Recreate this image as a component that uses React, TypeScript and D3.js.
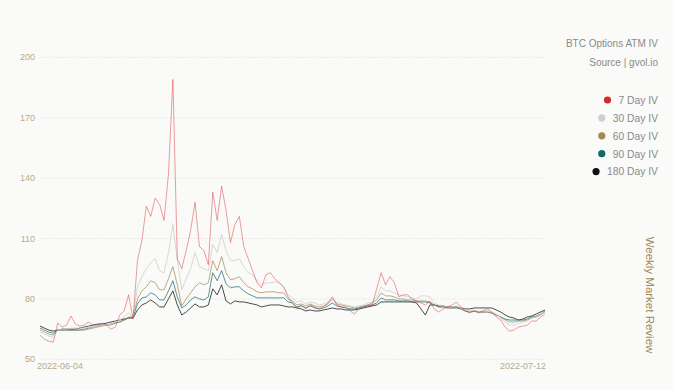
import React, { useEffect, useRef } from "react";
import * as d3 from "d3";

const startDate = "2022-06-04";
const endDate = "2022-07-12";
const stepHours = 8;
const yTicks = [50, 80, 110, 140, 170, 200];
const titleText = "BTC Options ATM IV";
const sourceText = "Source | gvol.io";
const sideText = "Weekly Market Review";

const seriesNames = ["7 Day IV", "30 Day IV", "60 Day IV", "90 Day IV", "180 Day IV"];
const seriesColors = ["#d42a2a", "#cfcfcf", "#a38a55", "#136a6e", "#111111"];

const iv7 = [62,60,59,58.5,68,66,67,71.5,67.5,66.5,67,68.5,67,67,68,67,65,66,72,74,82,70,99,109,126,121,130,127,119,142,189,100,95,104,114,128,106,104,97,133,119,136,124,108,117,121,106,100,94,88,85.5,92,93,90,88,86,81,77.5,75.5,77,75,77,76,75,76,78,81,77,76,76,74,72.5,75,76,77,77,85,93,87,91,88,81,82,82,80,79,78,77,79,75,73.5,75,76,77,78.5,76,74,73,74,73,74,75,73.5,71,69.5,66,64,64.5,66,66.5,67,69,69,71,72.5];
const iv30 = [63.5,62.5,61.5,61,64.5,65,65,65.5,65.5,65.5,65.5,66,66,66.5,67,67,67.5,68.5,69.5,71,73,71,86,91,95,98,100,94,93,103,117,99,84.5,90,95,103,96,95,94,107,103,112,104,99,99,100,96,93,92,89,87,88,88,88.5,88,86,82,80.5,78.5,79,77.5,78.5,78,77,77.5,78.5,79.5,78.5,77.5,77,76.5,76,76.5,77,78,78.5,81,86,84,84,83,82,81.5,81,80.5,80,81.5,81.5,81,78,77,76.5,76,76,76.5,75.5,74.5,74,74.5,74,74,74,73.5,72.5,70.5,68.5,67,67,68,68.5,69,70.5,71,72.5,73.5];
const iv60 = [64.5,63.5,62.5,62,64.5,64.5,64.5,64.5,64.5,64.5,64.5,65,65.5,66,66.5,67,67,68,68.5,69.5,71,71,80,84,86,89,88,84.5,84.5,90,96,87,76.5,80,83,86,88,87,88,99,94,101,93,89.5,90,91,88,86,85,83.5,83,83.5,83.5,83.5,83,83,80,79,77,77.5,76.5,77.5,76.5,76,76.5,77.5,80,77.5,77,76.5,76,75.5,76,76.5,77,78,79.5,83,81.5,81.5,81,80,80,79.5,79.5,79,79,79,78.5,77,76,76,75.5,75.5,76,75,74,73.5,74,73.5,73.5,73.5,73,72,71,69.5,68.5,68.5,69,69,69.5,70.5,71,72,73.5];
const iv90 = [65.5,64.5,63.5,63,64.5,64.5,64.5,64.5,64.5,64.5,65,65.5,66,66.5,67,67,67.5,68,68.5,69.5,70.5,71,77.5,80.5,81,83,82,79.5,79.5,84,89,81,75.5,77,79.5,81,80,79.5,81,93,89,94,87.5,85.5,86,86,84,82.5,81.5,80.5,80.5,80.5,80.5,80.5,80.5,80.5,78.5,78,76,76.5,75.5,76.5,75.5,75,75.5,76.5,78,76.5,76,75.5,75,75,75.5,76,76.5,77,78,80.5,79.5,79.5,79.5,79,79,79,78.5,78.5,78.5,78.5,78,77,76,76,75.5,75.5,75.5,75,74,73.5,74,73.5,73.5,73.5,73,72,71,70,69.5,69.5,69.5,69.5,70,71,71.5,72.5,74];
const iv180 = [66.5,65.5,64.5,64,64.5,65,65,65,65,65.5,66,66.5,67,67.5,67.5,68,68.5,69,69.5,70,70.5,70.5,74.5,77,78,79.5,78,76,76,80,84,77,72,73.5,75.5,77.5,76,76,77,85,82,87,79,77.5,79,78.5,78.5,78,77.5,77,76,76.5,77,77,77,76.5,76,76,75.5,75,74,74.5,74,74,74.5,75,75.5,75,75,74.5,74.5,74.5,75,75.5,76,76.5,77,78.5,78.5,78.5,78.5,78.5,78.5,78.5,78.5,78,75,72,77,77,76.5,76.5,76,76,76,75.5,75,75,75.5,75.5,75.5,75.5,75.5,74.5,73.5,72,71,70.5,69.5,70,71,71.5,72.5,73.5,74.5];

const allSeries = [iv7, iv30, iv60, iv90, iv180];

const W = 673;
const H = 390;
const FONT = "'Liberation Sans', Arial, Helvetica, sans-serif";

export default function App() {
  const ref = useRef<SVGSVGElement | null>(null);

  useEffect(() => {
    const svg = d3.select(ref.current);
    svg.selectAll("*").remove();

    svg.append("rect").attr("width", W).attr("height", H).attr("fill", "#fafaf8");

    const t0 = new Date(startDate + "T00:00:00Z");
    const t1 = new Date(endDate + "T00:00:00Z");
    const x = d3.scaleUtc().domain([t0, t1]).range([40, 545]);
    const y = d3.scaleLinear().domain([50, 200]).range([359.3, 57.3]);

    const grid = svg.append("g");
    yTicks.forEach((v) => {
      grid.append("line")
        .attr("x1", 41).attr("x2", 546)
        .attr("y1", y(v)).attr("y2", y(v))
        .attr("stroke", "#e4e0d4").attr("stroke-width", 0.8)
        .attr("stroke-dasharray", "1.5,1.5");
      grid.append("text")
        .attr("x", 35).attr("y", y(v) + 3)
        .attr("text-anchor", "end")
        .attr("font-family", FONT).attr("font-size", 9)
        .attr("fill", "#b7ab8c")
        .text(String(v));
    });

    svg.append("text").attr("x", 37).attr("y", 368.5)
      .attr("font-family", FONT).attr("font-size", 9).attr("fill", "#b7ab8c")
      .text(startDate);
    svg.append("text").attr("x", 546).attr("y", 368.5).attr("text-anchor", "end")
      .attr("font-family", FONT).attr("font-size", 9).attr("fill", "#b7ab8c")
      .text(endDate);

    const line = d3.line<number>()
      .x((_, i) => x(new Date(t0.getTime() + i * stepHours * 3600 * 1000)))
      .y((d) => y(d));

    const opac = [0.45, 0.8, 0.7, 0.7, 0.75];
    for (let s = allSeries.length - 1; s >= 0; s--) {
      svg.append("path")
        .attr("d", line(allSeries[s]) || "")
        .attr("fill", "none")
        .attr("stroke", seriesColors[s])
        .attr("stroke-opacity", opac[s])
        .attr("stroke-width", 1)
        .attr("stroke-linejoin", "round");
    }

    svg.append("text").attr("x", 658).attr("y", 46.5).attr("text-anchor", "end")
      .attr("font-family", FONT).attr("font-size", 10).attr("fill", "#8a8a8a")
      .text(titleText);
    svg.append("text").attr("x", 658).attr("y", 65.5).attr("text-anchor", "end")
      .attr("font-family", FONT).attr("font-size", 10).attr("fill", "#8a8a8a")
      .text(sourceText);

    seriesNames.forEach((name, i) => {
      const cy = 100 + i * 17.9;
      const t = svg.append("text").attr("x", 658).attr("y", cy + 3.8)
        .attr("text-anchor", "end")
        .attr("font-family", FONT).attr("font-size", 10.3).attr("fill", "#8a8a8a")
        .text(name);
      const w = (t.node() as SVGTextElement).getComputedTextLength();
      svg.append("circle").attr("cx", 658 - w - 11).attr("cy", cy).attr("r", 3.6)
        .attr("fill", seriesColors[i]);
    });

    svg.append("text")
      .attr("transform", "translate(646,295) rotate(90)")
      .attr("text-anchor", "middle")
      .attr("font-family", FONT).attr("font-size", 11.5).attr("fill", "#a08a58")
      .text(sideText);
  }, []);

  return (
    <svg ref={ref} width={W} height={H}
      style={{ position: "absolute", left: 0, top: 0, display: "block" }} />
  );
}
